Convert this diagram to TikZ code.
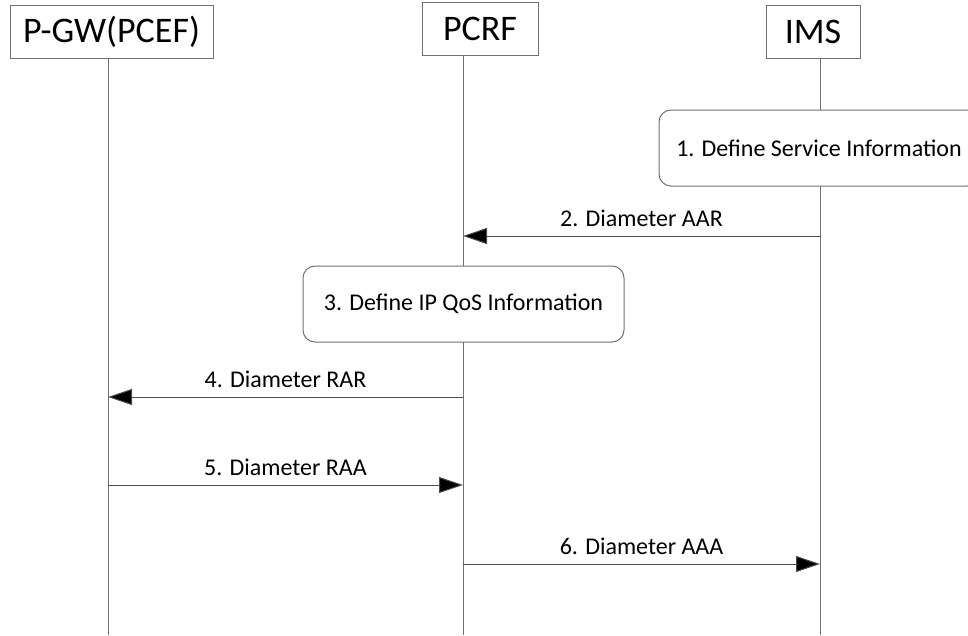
\documentclass[tikz,border=0pt]{standalone}
\usepackage{fontspec}
\setmainfont{Carlito}
\usetikzlibrary{arrows.meta}
\definecolor{trait}{HTML}{707070}
\tikzset{epais/.style={line width=1pt}}
\newcommand{\ent}[4]{\node[ent, minimum width=#3] (#1) at (#2) {#4}}
\newcommand{\vie}[2]{\coordinate (#1bas) at (#2,635);
 	\draw[vie] (#1.south -| #1bas) -- (#1bas)}
\newcommand{\etape}[4]{\node[etape, minimum width=#3] (#1) at (#2) {#4}}
\newcommand{\msg}[5]{\coordinate (#1a) at (#2bas |- 0,#4);
 	\coordinate (#1b) at (#3bas |- 0,#4);
 	\draw[msg] (#1a) -- node[lab] {#5} (#1b)}

\begin{document}
\begin{tikzpicture}[x=1pt,y=-1pt,
	ent/.style={draw=trait, epais, fill=white, font=\fontsize{36}{40}\selectfont,
		minimum height=53, inner sep=0pt},
	vie/.style={draw=trait, epais},
	etape/.style={draw=trait, epais, fill=white, rounded corners=12,
		minimum height=76, font=\fontsize{24}{28}\selectfont},
	msg/.style={draw=black!70, epais, -{Triangle[length=24pt,width=16pt,fill=black]}},
	lab/.style={above=9pt, inner sep=0pt, font=\fontsize{24}{28}\selectfont}]
	\useasboundingbox (0,0) rectangle (968,635);
	\ent{pgw}{111.5,31.5}{203}{P-GW(PCEF)};
	\ent{pcrf}{480,29}{116}{PCRF};
	\ent{ims}{813,31.5}{94}{IMS};
	\vie{pgw}{108};
	\vie{pcrf}{463};
	\vie{ims}{820};
	\etape{def1}{819,148}{320}{1. Define Service Information};
	\msg{m2}{ims}{pcrf}{236}{2. Diameter AAR};
	\etape{def3}{463.5,304}{321}{3. Define IP QoS Information};
	\msg{m4}{pcrf}{pgw}{397}{4. Diameter RAR};
	\msg{m5}{pgw}{pcrf}{485}{5. Diameter RAA};
	\msg{m6}{pcrf}{ims}{564}{6. Diameter AAA};
\end{tikzpicture}
\end{document}
